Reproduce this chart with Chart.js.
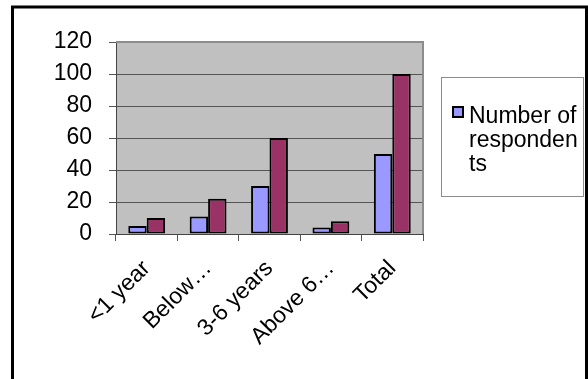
<!DOCTYPE html>
<html>
<head>
<meta charset="utf-8">
<script src="https://cdn.jsdelivr.net/npm/chart.js@4/dist/chart.umd.min.js"></script>
<style>
  html, body { margin: 0; padding: 0; background: #ffffff; }
  canvas { display: block; }
</style>
</head>
<body>
<canvas id="chart" width="588" height="379"></canvas>
<script>
// Experience groups and the two series plotted for each
const categories = ['<1 year', 'Below…', '3-6 years', 'Above 6…', 'Total'];
const respondents = [5, 11, 30, 4, 50];
const percentage = [10, 22, 60, 8, 100];
const yTicks = [0, 20, 40, 60, 80, 100, 120];

const seriesNames = ['Number of respondents', 'Percentage'];
const FONT = "'Liberation Sans', Arial, Helvetica, sans-serif";
const FONT_SIZE = 23;

// Grey plot background behind the bars
const plotBackground = {
  id: 'plotBackground',
  beforeDraw(chart) {
    const { ctx, chartArea: a } = chart;
    ctx.save();
    ctx.fillStyle = '#ffffff';
    ctx.fillRect(0, 0, chart.width, chart.height);
    ctx.fillStyle = '#c0c0c0';
    ctx.fillRect(a.left, a.top, a.right - a.left, a.bottom - a.top);
    ctx.restore();
  },
  beforeDatasetsDraw(chart) {
    const { ctx, chartArea: a } = chart;
    ctx.save();
    ctx.strokeStyle = '#8c8c8c';
    ctx.lineWidth = 2;
    ctx.beginPath();
    ctx.moveTo(a.left, a.top);
    ctx.lineTo(a.right, a.top);
    ctx.lineTo(a.right, a.bottom);
    ctx.stroke();
    ctx.restore();
  }
};

// Outer frame and the boxed legend on the right
const frameAndLegend = {
  id: 'frameAndLegend',
  afterDraw(chart) {
    const { ctx } = chart;
    ctx.save();
    // frame, open at the bottom
    ctx.strokeStyle = '#000000';
    ctx.lineWidth = 3;
    ctx.beginPath();
    ctx.moveTo(12.5, 379);
    ctx.lineTo(12.5, 7);
    ctx.lineTo(586.5, 7);
    ctx.lineTo(586.5, 379);
    ctx.stroke();

    // legend box
    const box = { x: 441, y: 77, w: 143, h: 120 };
    ctx.fillStyle = '#ffffff';
    ctx.fillRect(box.x, box.y, box.w, box.h);
    ctx.strokeStyle = '#8c8c8c';
    ctx.lineWidth = 1;
    ctx.strokeRect(box.x + 0.5, box.y + 0.5, box.w - 1, box.h - 1);

    // legend entry for the first series, wrapped by character like a narrow text cell
    ctx.font = FONT_SIZE + 'px ' + FONT;
    const maxW = 112;
    const lines = [];
    let cur = '';
    seriesNames[0].split(' ').forEach((word) => {
      const trial = cur ? cur + ' ' + word : word;
      if (ctx.measureText(trial).width <= maxW) { cur = trial; return; }
      if (cur) lines.push(cur);
      cur = '';
      for (const ch of word) {
        if (ctx.measureText(cur + ch).width > maxW && cur) { lines.push(cur); cur = ch; }
        else cur += ch;
      }
    });
    if (cur) lines.push(cur);

    const textX = 469, firstBase = 123, lineH = 24;
    ctx.fillStyle = '#000000';
    ctx.textBaseline = 'alphabetic';
    ctx.textAlign = 'left';
    lines.forEach((ln, i) => ctx.fillText(ln, textX, firstBase + i * lineH));

    const ds = chart.data.datasets[0];
    ctx.fillStyle = ds.backgroundColor;
    ctx.fillRect(452, 106, 12, 12);
    ctx.strokeStyle = '#000000';
    ctx.lineWidth = 2;
    ctx.strokeRect(453, 107, 10, 10);
    ctx.restore();
  }
};

new Chart(document.getElementById('chart'), {
  type: 'bar',
  data: {
    labels: categories,
    datasets: [
      { label: seriesNames[0], data: respondents, backgroundColor: '#9999ff' },
      { label: seriesNames[1], data: percentage, backgroundColor: '#993366' }
    ]
  },
  options: {
    responsive: false,
    animation: false,
    devicePixelRatio: 1,
    layout: { padding: { left: 0, top: 42, right: 165, bottom: 0 } },
    datasets: {
      bar: {
        categoryPercentage: 0.6,
        barPercentage: 1,
        borderColor: '#000000',
        borderWidth: 2,
        borderSkipped: false
      }
    },
    plugins: {
      legend: { display: false },
      tooltip: { enabled: false },
      title: { display: false }
    },
    scales: {
      x: {
        grid: { offset: true, drawOnChartArea: false, drawTicks: true, tickLength: 7, color: '#555555' },
        border: { display: true, color: '#444444', width: 1 },
        ticks: {
          autoSkip: false,
          minRotation: 45,
          maxRotation: 45,
          padding: 14,
          color: '#000000',
          font: { family: FONT, size: FONT_SIZE }
        },
        afterFit(scale) { scale.height = 145; }
      },
      y: {
        min: 0,
        max: 120,
        afterBuildTicks(scale) { scale.ticks = yTicks.map((v) => ({ value: v })); },
        grid: { color: '#555555', tickLength: 7 },
        border: { display: true, color: '#444444', width: 1 },
        ticks: {
          padding: 17,
          color: '#000000',
          font: { family: FONT, size: FONT_SIZE }
        },
        afterFit(scale) { scale.width = 116; }
      }
    }
  },
  plugins: [plotBackground, frameAndLegend]
});
</script>
</body>
</html>
